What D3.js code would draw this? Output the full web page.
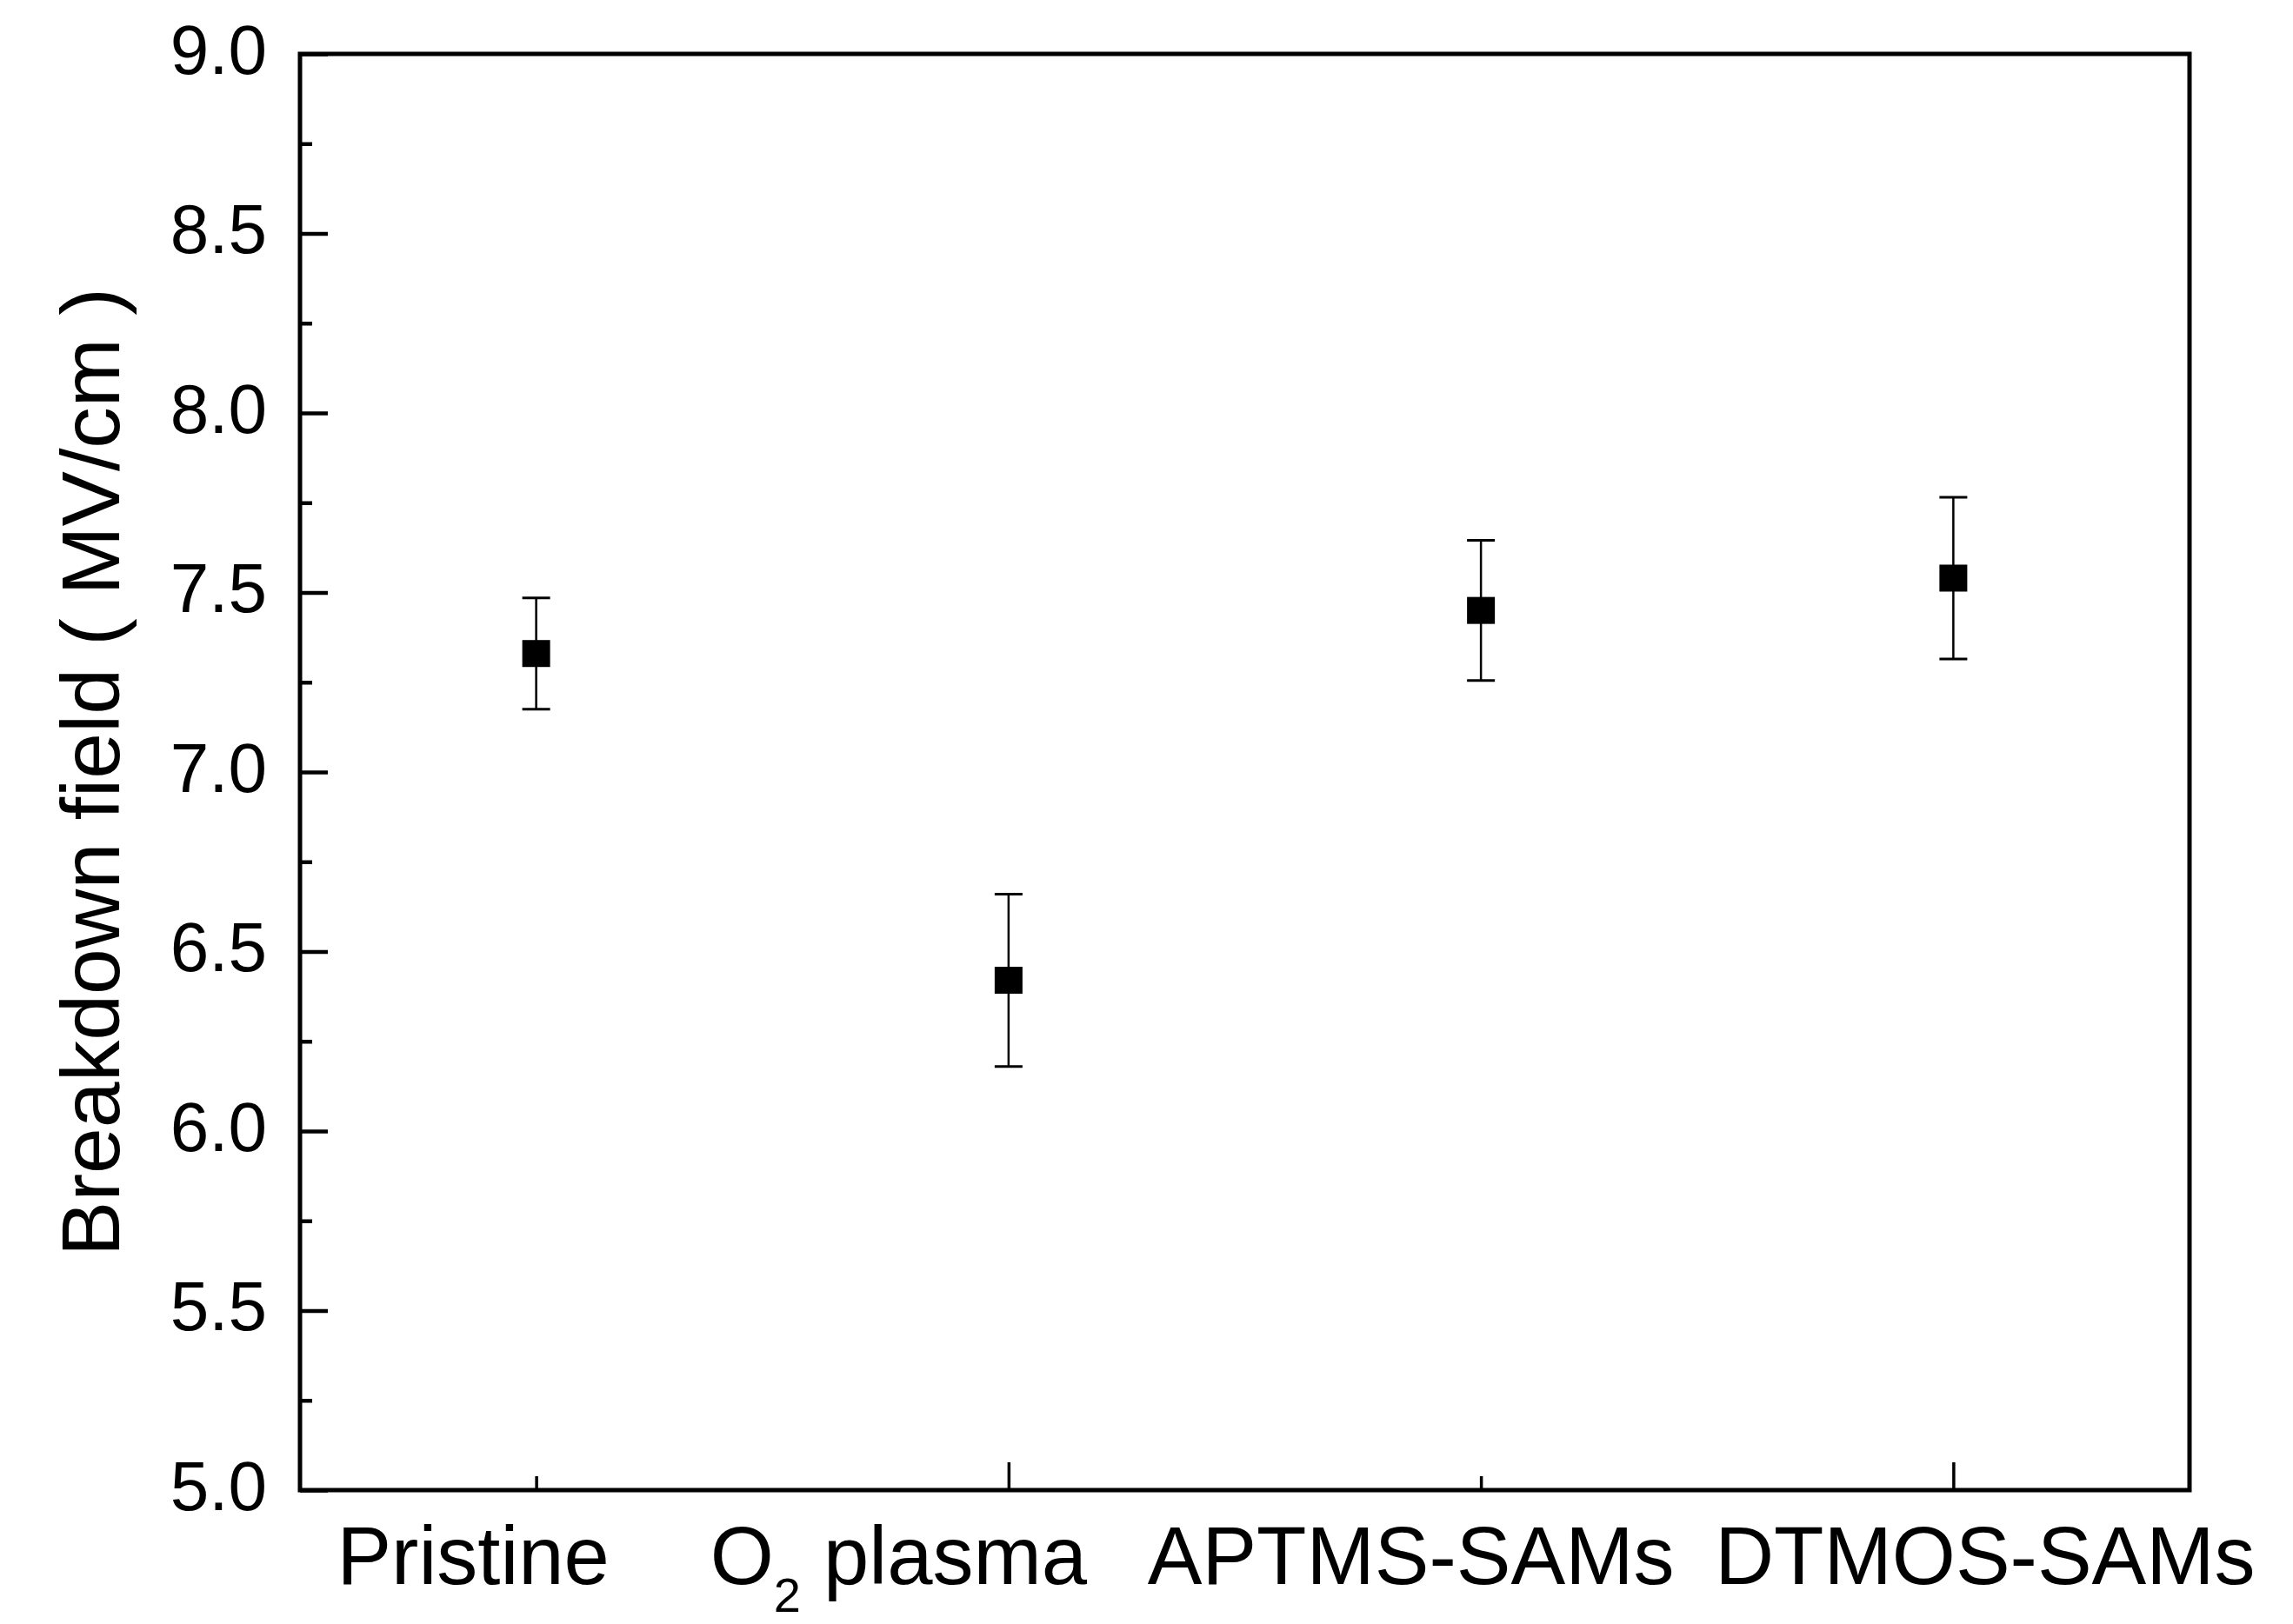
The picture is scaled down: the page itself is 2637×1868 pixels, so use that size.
<!DOCTYPE html>
<html>
<head>
<meta charset="utf-8">
<script src="https://cdn.jsdelivr.net/npm/d3@7"></script>
<style>
  body { margin: 0; background: #fff; }
  text { font-family: "Liberation Sans", Arial, sans-serif; fill: #000; }
</style>
</head>
<body>
<div id="chart"></div>
<script>
// data
var categories = ['Pristine', 'O2 plasma', 'APTMS-SAMs', 'DTMOS-SAMs'];
var breakdown = [7.33, 6.42, 7.45, 7.54];
var errors = [0.155, 0.24, 0.195, 0.225];
var yTicks = [5.0, 5.5, 6.0, 6.5, 7.0, 7.5, 8.0, 8.5, 9.0];
var yMinorTicks = [5.25, 5.75, 6.25, 6.75, 7.25, 7.75, 8.25, 8.75];

var width = 2637, height = 1868;
var margin = {top: 62, right: 119, bottom: 154, left: 345};
var w = width - margin.left - margin.right;
var h = height - margin.top - margin.bottom;
// the category labels are not centred under their ticks in the original
var labelShift = [-73, -127, -81, 36];

var svg = d3.select('#chart').append('svg')
  .attr('width', width).attr('height', height);
var g = svg.append('g').attr('transform', 'translate(' + margin.left + ',' + margin.top + ')');

var x = d3.scalePoint().domain(categories).range([0, w]).padding(0.5);
var y = d3.scaleLinear().domain([5, 9]).range([h, 0]);

// y axis, ticks pointing inward
var yAxis = g.append('g')
  .call(d3.axisLeft(y).tickValues(yTicks).tickSize(-32).tickSizeOuter(0).tickPadding(38)
    .tickFormat(d3.format('.1f')));
yAxis.select('.domain').remove();
yAxis.selectAll('.tick line').attr('stroke', '#000').attr('stroke-width', 4.5);
yAxis.selectAll('.tick text').attr('font-size', 80).attr('dy', '0.28em');

var yMinor = g.append('g')
  .call(d3.axisLeft(y).tickValues(yMinorTicks).tickSize(-14).tickSizeOuter(0).tickFormat(''));
yMinor.select('.domain').remove();
yMinor.selectAll('.tick line').attr('stroke', '#000').attr('stroke-width', 4.5);

// x axis
var xAxis = g.append('g')
  .attr('transform', 'translate(0,' + h + ')')
  .call(d3.axisBottom(x).tickSize(-16).tickSizeOuter(0).tickFormat(''));
xAxis.select('.domain').remove();
xAxis.selectAll('.tick line')
  .attr('stroke', '#000').attr('stroke-width', 3.5)
  .attr('y2', function (d, i) { return i % 2 ? -32 : -16; });

xAxis.selectAll('.tick').each(function (d, i) {
  var t = d3.select(this).append('text')
    .attr('x', labelShift[i])
    .attr('y', 108)
    .attr('text-anchor', 'middle')
    .attr('font-size', 94);
  if (d === 'O2 plasma') {
    t.append('tspan').text('O');
    t.append('tspan').attr('font-size', 56).attr('dy', 32).text('2');
    t.append('tspan').attr('dy', -32).text(' plasma');
  } else {
    t.text(d);
  }
});

// frame
g.append('rect')
  .attr('width', w).attr('height', h)
  .attr('fill', 'none').attr('stroke', '#000').attr('stroke-width', 5);

// error bars
var pts = g.selectAll('.pt')
  .data(categories)
  .enter().append('g')
  .attr('class', 'pt');

pts.append('line')
  .attr('x1', function (d) { return x(d); })
  .attr('x2', function (d) { return x(d); })
  .attr('y1', function (d, i) { return y(breakdown[i] + errors[i]); })
  .attr('y2', function (d, i) { return y(breakdown[i] - errors[i]); })
  .attr('stroke', '#000').attr('stroke-width', 2.5);

[1, -1].forEach(function (s) {
  pts.append('line')
    .attr('x1', function (d) { return x(d) - 16; })
    .attr('x2', function (d) { return x(d) + 16; })
    .attr('y1', function (d, i) { return y(breakdown[i] + s * errors[i]); })
    .attr('y2', function (d, i) { return y(breakdown[i] + s * errors[i]); })
    .attr('stroke', '#000').attr('stroke-width', 3);
});

// square markers
pts.append('rect')
  .attr('x', function (d) { return x(d) - 16; })
  .attr('y', function (d, i) { return y(breakdown[i]) - 15.5; })
  .attr('width', 32).attr('height', 31)
  .attr('fill', '#000');

// y title
svg.append('text')
  .attr('transform', 'translate(137,' + (margin.top + h / 2) + ') rotate(-90)')
  .attr('text-anchor', 'middle')
  .attr('font-size', 95)
  .text('Breakdown field ( MV/cm )');
</script>
</body>
</html>
